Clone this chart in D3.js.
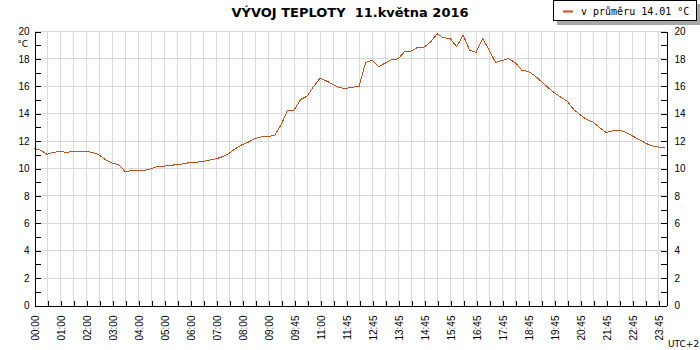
<!DOCTYPE html>
<html>
<head>
<meta charset="utf-8">
<script src="https://cdn.jsdelivr.net/npm/d3@7"></script>
<style>
  body { margin: 0; background: #fff; }
  svg { display: block; font-family: "DejaVu Sans", Verdana, sans-serif; }
  .axis text { font-size: 10px; fill: #000; }
  .axis path, .axis line { stroke: #000; shape-rendering: crispEdges; }
  .grid line { stroke: #d9d9d9; shape-rendering: crispEdges; }
</style>
</head>
<body>
<div id="wrapper"></div>
<script>
// tick labels on the time axis (one label every second sample slot)
const timeLabels = ["00:00", "01:00", "02:00", "03:00", "04:00", "05:00", "06:00", "07:00",
    "08:00", "09:00", "09:45", "11:00", "11:45", "12:45", "13:45", "14:45", "15:45",
    "16:45", "17:45", "18:45", "19:45", "20:45", "21:45", "22:45", "23:45"];

// temperature readings, one every half slot
const temps = [
    11.4, 11.3, 11.0, 11.15, 11.2, 11.15, 11.2, 11.2, 11.2, 11.15,
    10.95, 10.6, 10.35, 10.25, 9.75, 9.8, 9.83, 9.83, 9.95, 10.1,
    10.13, 10.2, 10.24, 10.31, 10.4, 10.42, 10.49, 10.57, 10.67, 10.83,
    11.07, 11.42, 11.7, 11.9, 12.15, 12.28, 12.31, 12.36, 13.15, 14.23,
    14.23, 15.0, 15.24, 15.95, 16.55, 16.35, 16.1, 15.85, 15.82, 15.9,
    15.96, 17.7, 17.86, 17.4, 17.65, 17.92, 17.96, 18.5, 18.54, 18.8,
    18.83, 19.2, 19.8, 19.5, 19.47, 18.85, 19.7, 18.6, 18.45, 19.45,
    18.6, 17.7, 17.85, 17.98, 17.7, 17.15, 17.05, 16.75, 16.32, 15.9,
    15.5, 15.18, 14.88, 14.27, 13.89, 13.54, 13.34, 12.95, 12.58, 12.72,
    12.75, 12.62, 12.35, 12.1, 11.82, 11.62, 11.53, 11.51
];

const title = "VÝVOJ TEPLOTY  11.května 2016";
const legendLabel = "v průměru 14.01 °C";
const yMajor = d3.range(0, 21, 2);
const yMinor = d3.range(1, 20, 2);
const lineColor = "#c0501c";

var dimension = {
    width: 700,
    height: 350,
    margin: { left: 34, right: 34, top: 31, bottom: 45 }
};

const svg = d3.select("#wrapper").append("svg")
    .attr("width", dimension.width)
    .attr("height", dimension.height);

const x_scaler = d3.scaleLinear()
    .domain([0, 48.6])
    .range([dimension.margin.left, dimension.width - dimension.margin.right]);
const y_scaler = d3.scaleLinear()
    .domain([0, 20])
    .range([dimension.height - dimension.margin.bottom, dimension.margin.top]);

const slots = d3.range(1, timeLabels.length * 2 - 1);

// grid
const grid = svg.append("g").attr("class", "grid");
grid.selectAll(".h").data(yMajor.filter(d => d > 0)).join("line")
    .attr("x1", x_scaler.range()[0]).attr("x2", x_scaler.range()[1])
    .attr("y1", d => y_scaler(d) + 0.5).attr("y2", d => y_scaler(d) + 0.5);
grid.selectAll(".v").data(slots).join("line")
    .attr("x1", d => x_scaler(d) + 0.5).attr("x2", d => x_scaler(d) + 0.5)
    .attr("y1", y_scaler(20)).attr("y2", y_scaler(0));

// line
const line = d3.line()
    .x((d, i) => x_scaler(i * 0.5))
    .y(d => y_scaler(d));
svg.append("path")
    .attr("fill", "none")
    .attr("stroke", lineColor)
    .attr("stroke-width", 1)
    .style("shape-rendering", "crispEdges")
    .attr("d", line(temps));

// axes
const y_axis_left = d3.axisLeft(y_scaler).tickValues(yMajor).tickSize(-6).tickSizeOuter(0).tickPadding(5);
const y_axis_left_minor = d3.axisLeft(y_scaler).tickValues(yMinor).tickSize(-6).tickSizeOuter(0).tickFormat("");
const y_axis_right = d3.axisRight(y_scaler).tickValues(yMajor).tickSize(-6).tickSizeOuter(0).tickPadding(8);
const y_axis_right_minor = d3.axisRight(y_scaler).tickValues(yMinor).tickSize(-6).tickSizeOuter(0).tickFormat("");

svg.append("g").attr("class", "axis")
    .attr("transform", `translate(${x_scaler.range()[0] + 0.5},0.5)`).call(y_axis_left);
svg.append("g").attr("class", "axis")
    .attr("transform", `translate(${x_scaler.range()[0] + 0.5},0.5)`).call(y_axis_left_minor);
svg.append("g").attr("class", "axis")
    .attr("transform", `translate(${x_scaler.range()[1] + 0.5},0.5)`).call(y_axis_right);
svg.append("g").attr("class", "axis")
    .attr("transform", `translate(${x_scaler.range()[1] + 0.5},0.5)`).call(y_axis_right_minor);

const x_axis = d3.axisBottom(x_scaler)
    .tickValues(d3.range(0, timeLabels.length * 2 - 1))
    .tickSize(-5).tickSizeOuter(0)
    .tickFormat(i => i % 2 === 0 ? timeLabels[i / 2] : "");

const xg = svg.append("g").attr("class", "axis")
    .attr("transform", `translate(0.5,${y_scaler(0) + 0.5})`)
    .call(x_axis);
xg.selectAll("text")
    .attr("transform", "rotate(-90)")
    .attr("x", -10).attr("y", 0)
    .attr("dy", "0.35em")
    .attr("text-anchor", "end");

// unit labels
svg.append("text")
    .attr("x", 28).attr("y", 47)
    .attr("text-anchor", "end")
    .style("font-size", "9px")
    .text("°C");
svg.append("text")
    .attr("x", 668).attr("y", 347)
    .style("font-size", "9px")
    .text("UTC+2");

// title
svg.append("text")
    .attr("x", 350).attr("y", 17)
    .attr("text-anchor", "middle")
    .style("font-size", "13px")
    .style("font-weight", "bold")
    .style("white-space", "pre")
    .text(title);

// legend box with shadow
svg.append("rect")
    .attr("x", 557).attr("y", 4).attr("width", 143).attr("height", 21)
    .attr("fill", "#a8a8a8");
svg.append("rect")
    .attr("x", 553.5).attr("y", 0.5).attr("width", 143).attr("height", 20)
    .attr("fill", "#fff").attr("stroke", "#000")
    .style("shape-rendering", "crispEdges");
svg.append("line")
    .attr("x1", 563).attr("x2", 573).attr("y1", 11.5).attr("y2", 11.5)
    .attr("stroke", lineColor).attr("stroke-width", 2);
svg.append("text")
    .attr("x", 581).attr("y", 15)
    .style("font-family", "'DejaVu Sans Mono', monospace")
    .style("font-size", "10px")
    .text(legendLabel);
</script>
</body>
</html>
